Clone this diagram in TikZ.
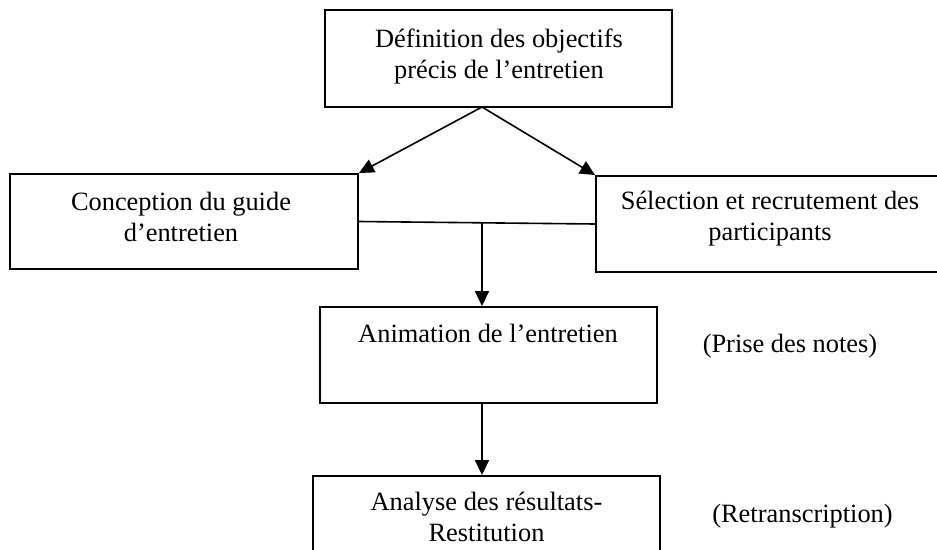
\documentclass[tikz,border=0pt]{standalone}
\usepackage{fontspec}
\setmainfont{Liberation Serif}
\usetikzlibrary{arrows.meta,calc}
\begin{document}
\begin{tikzpicture}[x=1pt,y=-1pt,
  boxstyle/.style={draw,line width=1.9pt,rectangle,inner sep=0pt},
  lbl/.style={inner sep=0pt,align=center,font=\fontsize{26.4}{31}\selectfont},
  conn/.style={line width=1.6pt},
  arr/.style={line width=1.6pt,-{Triangle[length=15pt,width=14pt]}}]
\useasboundingbox (0,0) rectangle (937,549);
\clip (0,0) rectangle (937,549);
% boxes
\node[boxstyle,minimum width=347pt,minimum height=97pt] (top) at (498.5,58.5) {};
\node[boxstyle,minimum width=348pt,minimum height=95pt] (left) at (184,221.5) {};
\node[boxstyle,minimum width=349pt,minimum height=96pt] (right) at (770.5,224) {};
\node[boxstyle,minimum width=337pt,minimum height=96pt] (mid) at (488.5,355) {};
\node[boxstyle,minimum width=347pt,minimum height=84pt] (bot) at (486.5,518) {};
% texts
\node[lbl] (ttop) at (499,56.4) {Définition des objectifs\\précis de l’entretien};
\node[lbl] (tleft) at (181,216.5) {Conception du guide\\d’entretien};
\node[lbl] (tright) at (770,218.9) {Sélection et recrutement des\\participants};
\node[lbl,anchor=base] (tmid) at (488,342) {Animation de l’entretien};
\node[lbl] (tbot) at (486.5,517) {Analyse des résultats-\\Restitution};
\node[lbl,anchor=base] (notes) at (790,352) {(Prise des notes)};
\node[lbl,anchor=base] (retr) at (802.5,522) {(Retranscription)};
% connectors
\coordinate (ts) at (482,107);
\draw[arr] (ts) -- (left.north east);
\draw[arr] (ts) -- (right.north west);
\draw[conn] (left.east) -- (right.west);
\coordinate (j) at (482,222.5);
\draw[arr] (j) -- (j |- mid.north);
\draw[arr] (j |- mid.south) -- (j |- bot.north);
\end{tikzpicture}
\end{document}
